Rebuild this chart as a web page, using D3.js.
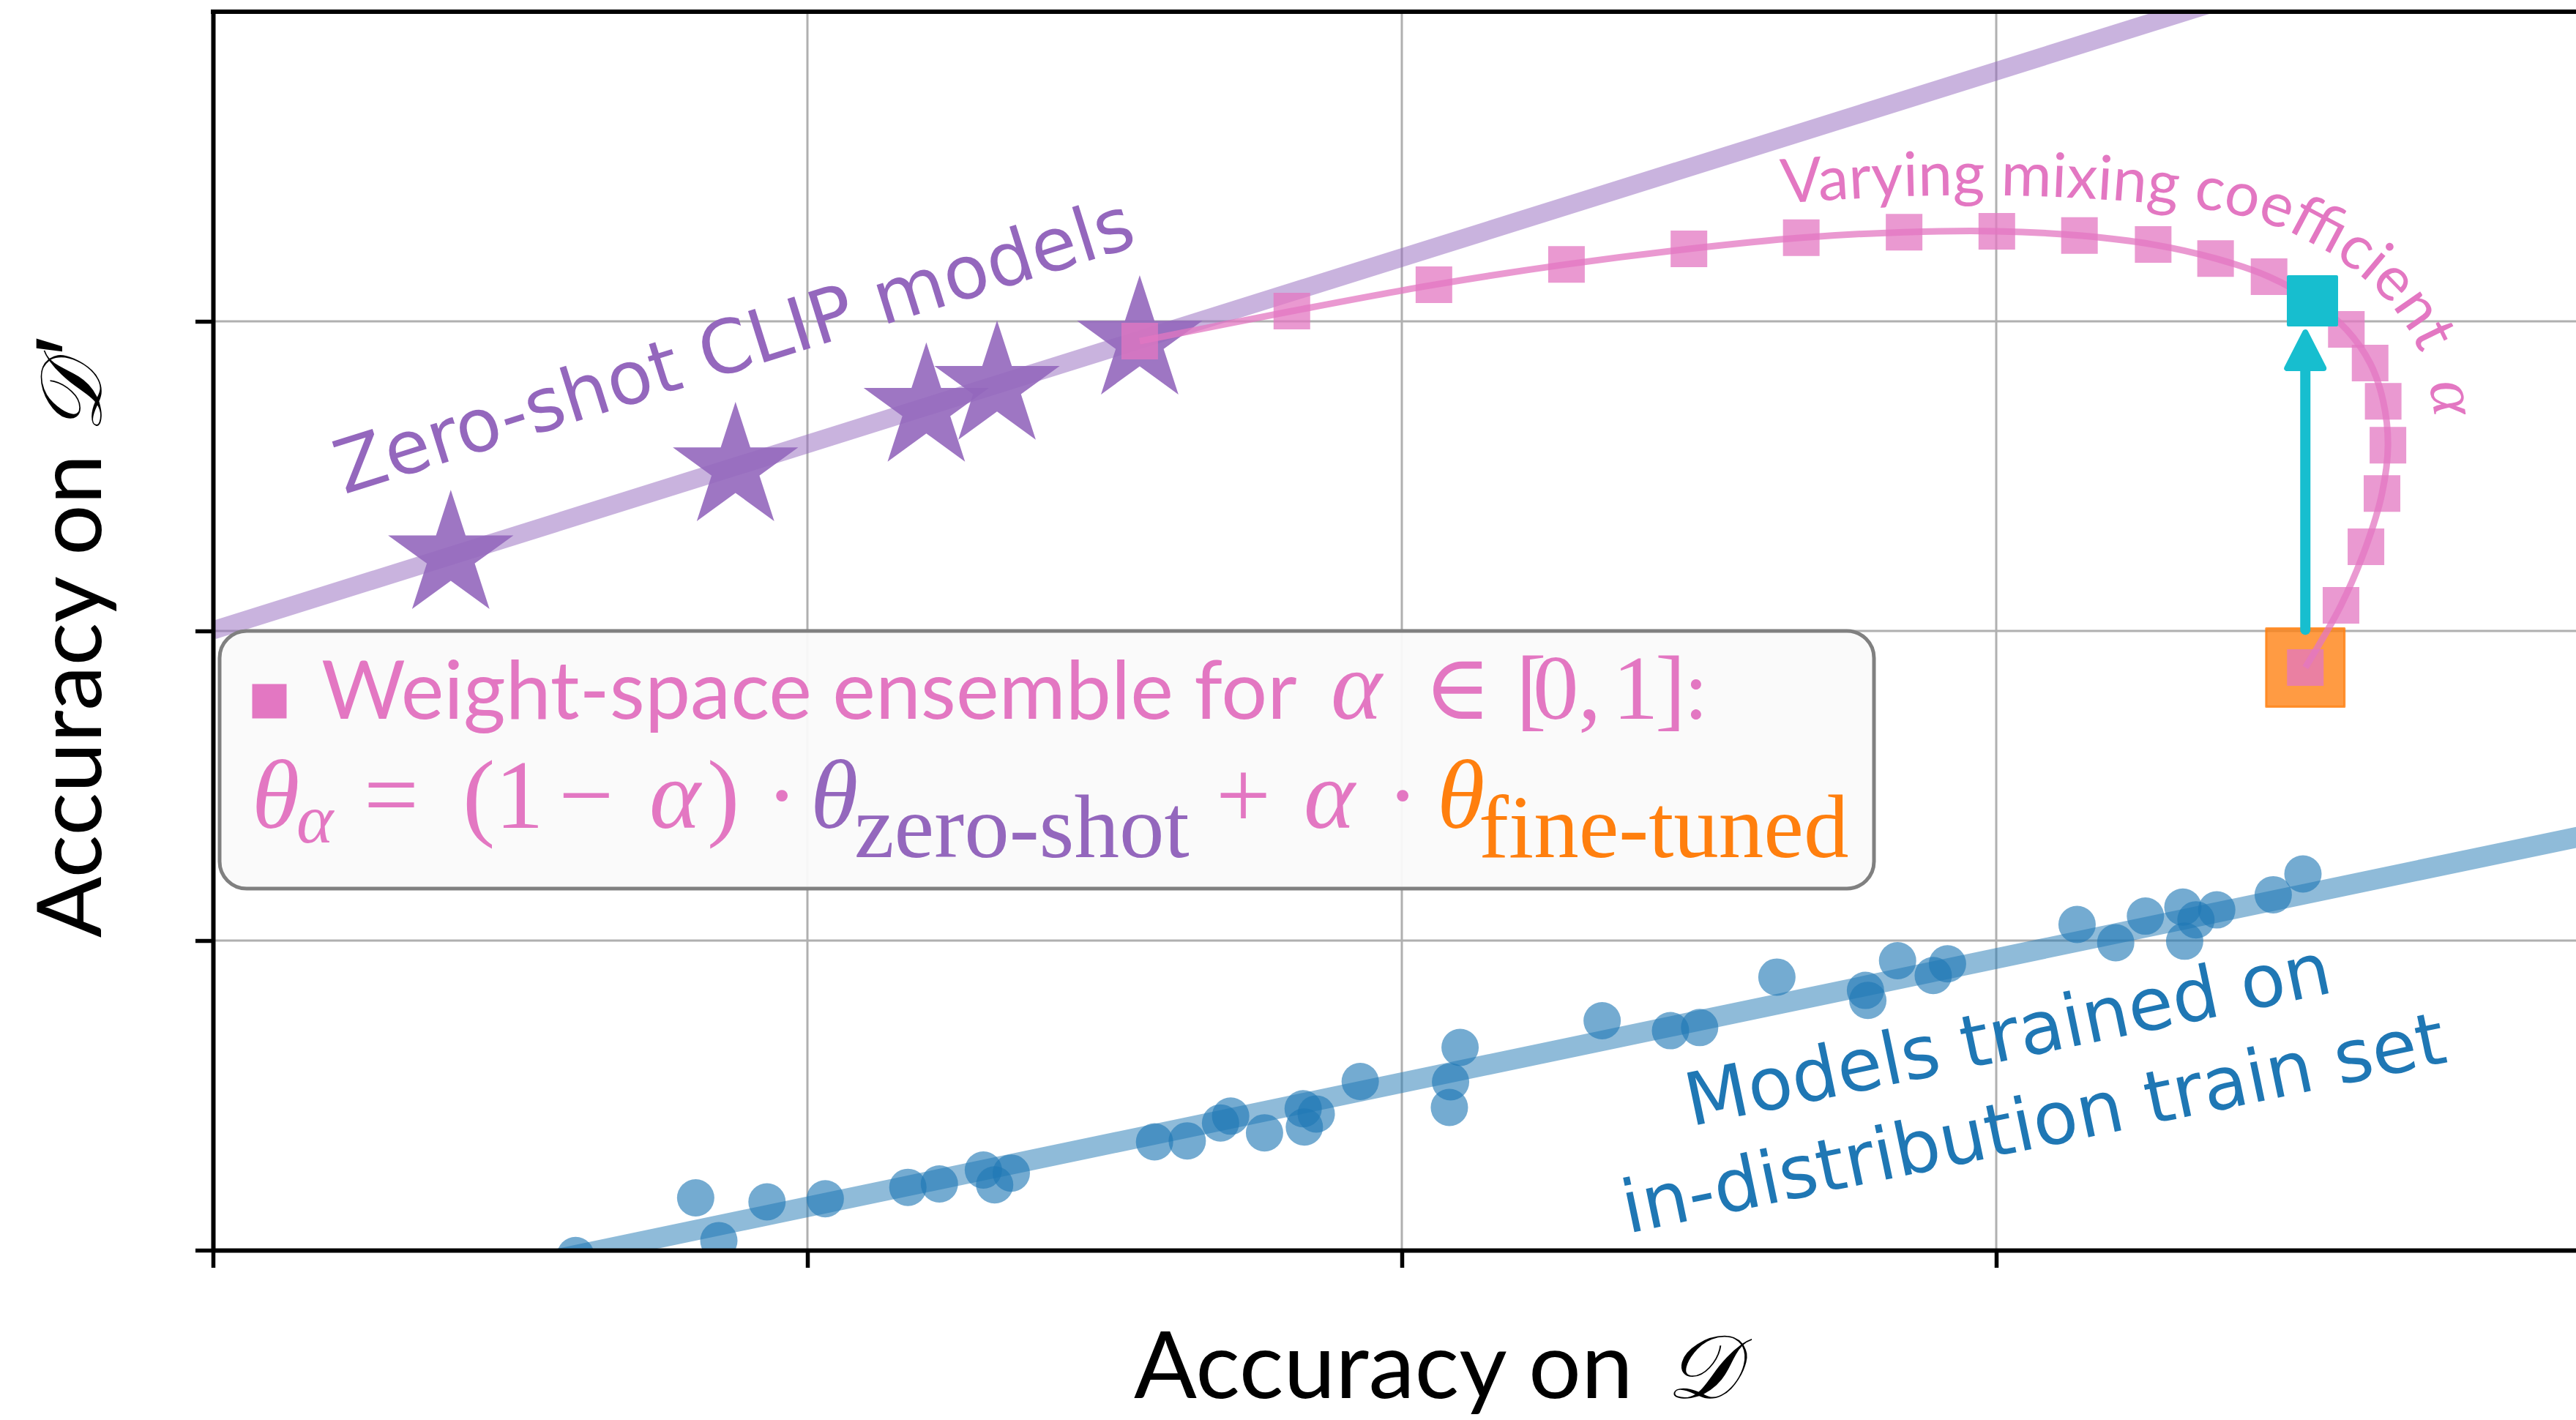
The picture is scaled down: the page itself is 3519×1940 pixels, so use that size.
<!DOCTYPE html>
<html>
<head>
<meta charset="utf-8">
<script src="https://cdn.jsdelivr.net/npm/d3@7"></script>
<style>
  html, body { margin: 0; padding: 0; background: #ffffff; }
  svg { display: block; }
</style>
</head>
<body>
<svg id="chart" width="3519" height="1940"></svg>
<script>
// ---- data (accuracy on D along x, accuracy on D' along y; arbitrary units) ----

// zero-shot CLIP models
const zeroShotX = [0.400, 0.879, 1.200, 1.319, 1.559];
const zeroShotY = [2.243, 2.527, 2.719, 2.790, 2.936];

// weight-space ensembles for alpha = 0, 0.05, ..., 1
const mixAlpha = [0, 0.05, 0.1, 0.15, 0.2, 0.25, 0.3, 0.35, 0.4, 0.45, 0.5,
                  0.55, 0.6, 0.65, 0.7, 0.75, 0.8, 0.85, 0.9, 0.95, 1];
const mixX = [1.559, 1.815, 2.054, 2.277, 2.483, 2.672, 2.845, 3.001, 3.140, 3.264, 3.369,
              3.459, 3.532, 3.589, 3.629, 3.651, 3.659, 3.649, 3.622, 3.580, 3.520];
const mixY = [2.936, 3.033, 3.118, 3.184, 3.234, 3.270, 3.288, 3.291, 3.277, 3.248, 3.203,
              3.144, 3.066, 2.974, 2.865, 2.742, 2.600, 2.444, 2.272, 2.083, 1.882];
const bestAlpha = 0.6;

// models trained on the in-distribution train set
const trainedX = [0.610, 0.812, 0.851, 0.932, 1.030, 1.169, 1.222, 1.296, 1.315, 1.343,
                  1.584, 1.639, 1.695, 1.712, 1.769, 1.834, 1.836, 1.856, 1.930, 2.098,
                  2.082, 2.080, 2.337, 2.452, 2.501, 2.631, 2.780, 2.784, 2.834, 2.894,
                  2.918, 3.136, 3.201, 3.251, 3.314, 3.317, 3.336, 3.371, 3.466, 3.516];
const trainedY = [-0.017, 0.169, 0.031, 0.156, 0.166, 0.203, 0.214, 0.259, 0.211, 0.249,
                  0.350, 0.353, 0.411, 0.433, 0.379, 0.457, 0.398, 0.440, 0.545, 0.655,
                  0.544, 0.461, 0.741, 0.709, 0.719, 0.882, 0.839, 0.807, 0.935, 0.887,
                  0.925, 1.052, 0.993, 1.079, 1.108, 0.998, 1.067, 1.099, 1.148, 1.215];

// linear trends: [slope, intercept]
const zeroShotFit = [0.602, 2.002];
const trainedFit = [0.401, -0.261];

// ticks (unlabelled)
const xTicks = [0, 1, 2, 3];
const yTicks = [0, 1, 2, 3];

// ---- colours & fonts ----
const C_BLUE = "#1f77b4", C_ORANGE = "#ff7f0e", C_PURPLE = "#9467bd",
      C_PINK = "#e377c2", C_CYAN = "#17becf", C_GRID = "#b0b0b0";

const SANS = "Lato, 'DejaVu Sans', sans-serif";
const DJV = "'DejaVu Sans', sans-serif";
const SERIF = "'Liberation Serif', 'DejaVu Serif', serif";
const CAL = "'DejaVu Serif', 'Liberation Serif', serif";

// ---- layout ----
const W = 3519, H = 1940;
const plot = { left: 291, top: 16, right: 3539, bottom: 1708 };

const x = d3.scaleLinear().domain([0, 4]).range([plot.left, plot.right]);
const y = d3.scaleLinear().domain([0, 4]).range([plot.bottom, plot.top]);

const svg = d3.select("#chart");
svg.append("rect").attr("width", W).attr("height", H).attr("fill", "#ffffff");

const defs = svg.append("defs");
defs.append("clipPath").attr("id", "plot-clip")
  .append("rect")
  .attr("x", plot.left).attr("y", plot.top)
  .attr("width", plot.right - plot.left).attr("height", plot.bottom - plot.top);

// grid
const grid = svg.append("g").attr("class", "grid");
grid.selectAll("line.gx").data(xTicks.filter(t => t > 0)).join("line")
  .attr("x1", d => x(d)).attr("x2", d => x(d))
  .attr("y1", plot.top).attr("y2", plot.bottom)
  .attr("stroke", C_GRID).attr("stroke-width", 3);
grid.selectAll("line.gy").data(yTicks.filter(t => t > 0)).join("line")
  .attr("y1", d => y(d)).attr("y2", d => y(d))
  .attr("x1", plot.left).attr("x2", plot.right)
  .attr("stroke", C_GRID).attr("stroke-width", 3);

const data = svg.append("g").attr("clip-path", "url(#plot-clip)");

// trend lines
const fitLine = (fit) => [0, 4].map(v => [x(v), y(fit[0] * v + fit[1])]);
data.append("path")
  .attr("d", d3.line()(fitLine(zeroShotFit)))
  .attr("stroke", C_PURPLE).attr("stroke-opacity", 0.5)
  .attr("stroke-width", 25).attr("fill", "none");
data.append("path")
  .attr("d", d3.line()(fitLine(trainedFit)))
  .attr("stroke", C_BLUE).attr("stroke-opacity", 0.5)
  .attr("stroke-width", 28).attr("fill", "none");

// standard models
data.selectAll("circle.trained").data(d3.range(trainedX.length)).join("circle")
  .attr("cx", i => x(trainedX[i])).attr("cy", i => y(trainedY[i]))
  .attr("r", 25.5)
  .attr("fill", C_BLUE).attr("fill-opacity", 0.62);

// zero-shot stars
const star = d3.symbol().type(d3.symbolStar).size(9100);
data.selectAll("path.star").data(d3.range(zeroShotX.length)).join("path")
  .attr("d", star)
  .attr("transform", i => `translate(${x(zeroShotX[i])},${y(zeroShotY[i])})`)
  .attr("fill", C_PURPLE).attr("fill-opacity", 0.9);

// fine-tuned model (alpha = 1)
const last = mixX.length - 1;
const ftSide = 107;
data.append("path")
  .attr("d", d3.symbol().type(d3.symbolSquare).size(ftSide * ftSide)())
  .attr("transform", `translate(${x(mixX[last])},${y(mixY[last])})`)
  .attr("fill", C_ORANGE).attr("fill-opacity", 0.78)
  .attr("stroke", C_ORANGE).attr("stroke-opacity", 0.78).attr("stroke-width", 3)
  .attr("stroke-linejoin", "round");

// weight-space ensemble squares + curve
const sq = d3.symbol().type(d3.symbolSquare).size(50 * 50);
data.selectAll("path.mix").data(d3.range(mixX.length)).join("path")
  .attr("d", sq)
  .attr("transform", i => `translate(${x(mixX[i])},${y(mixY[i])})`)
  .attr("fill", C_PINK).attr("fill-opacity", 0.75);

data.append("path")
  .attr("d", d3.line().curve(d3.curveCatmullRom.alpha(0.5))
    (d3.range(mixX.length).map(i => [x(mixX[i]), y(mixY[i])])))
  .attr("fill", "none").attr("stroke", C_PINK).attr("stroke-opacity", 0.75)
  .attr("stroke-width", 9).attr("stroke-linejoin", "round");

// arrow from the fine-tuned model up to the best mixture
const bi = mixAlpha.indexOf(bestAlpha);
const cyanSide = 70;
const ax = x(mixX[last]);
const ay0 = y(mixY[last]) - ftSide / 2 + 2;
const ay1 = y(mixY[bi]) + cyanSide / 2 + 4;
const headLen = 56, headW = 58;
data.append("line")
  .attr("x1", ax).attr("x2", ax)
  .attr("y1", ay0).attr("y2", ay1 + headLen - 4)
  .attr("stroke", C_CYAN).attr("stroke-width", 14).attr("stroke-linecap", "round");
data.append("path")
  .attr("d", `M${ax},${ay1 + 4} L${ax - headW / 2 + 4},${ay1 + headLen - 3} L${ax + headW / 2 - 4},${ay1 + headLen - 3} Z`)
  .attr("fill", C_CYAN).attr("stroke", C_CYAN).attr("stroke-width", 8)
  .attr("stroke-linejoin", "round");

data.append("path")
  .attr("d", d3.symbol().type(d3.symbolSquare).size((cyanSide - 4) * (cyanSide - 4))())
  .attr("transform", `translate(${x(mixX[bi])},${y(mixY[bi])})`)
  .attr("fill", C_CYAN).attr("stroke", C_CYAN).attr("stroke-width", 4)
  .attr("stroke-linejoin", "round");

// ---- axes (no tick labels) ----
const axes = svg.append("g");
const xAxis = axes.append("g").attr("transform", `translate(0,${plot.bottom})`)
  .call(d3.axisBottom(x).tickValues(xTicks).tickSize(24).tickSizeOuter(0).tickFormat(""));
const yAxis = axes.append("g").attr("transform", `translate(${plot.left},0)`)
  .call(d3.axisLeft(y).tickValues(yTicks).tickSize(24).tickSizeOuter(0).tickFormat(""));
[xAxis, yAxis].forEach(g => {
  g.select(".domain").attr("stroke", "#000").attr("stroke-width", 6);
  g.selectAll(".tick line").attr("stroke", "#000").attr("stroke-width", 5.5);
});
axes.append("line")
  .attr("x1", plot.left - 3).attr("x2", plot.right)
  .attr("y1", plot.top).attr("y2", plot.top)
  .attr("stroke", "#000").attr("stroke-width", 6);

// axis titles: words, calligraphic D and the prime are set as separate runs
const titles = svg.append("g").attr("fill", "#000");
titles.append("text")
  .attr("x", 1549).attr("y", 1910)
  .attr("font-family", SANS).attr("font-size", 127)
  .text("Accuracy on");
titles.append("text")
  .attr("x", 2276).attr("y", 1910)
  .attr("font-family", CAL).attr("font-style", "italic").attr("font-size", 122)
  .text("𝒟");

titles.append("text")
  .attr("transform", "translate(138,1281) rotate(-90)")
  .attr("font-family", SANS).attr("font-size", 123)
  .text("Accuracy on");
titles.append("text")
  .attr("transform", "translate(138,592) rotate(-90)")
  .attr("font-family", CAL).attr("font-style", "italic").attr("font-size", 118)
  .text("𝒟");
titles.append("text")
  .attr("transform", "translate(146,486) rotate(-90)")
  .attr("font-family", "'Liberation Sans', 'Noto Sans', 'DejaVu Sans', sans-serif")
  .attr("font-size", 140)
  .text("′");

// ---- annotations ----
const angleOf = (fit) => {
  const p0 = [x(0), y(fit[1])], p1 = [x(4), y(fit[0] * 4 + fit[1])];
  return Math.atan2(p1[1] - p0[1], p1[0] - p0[0]) * 180 / Math.PI;
};

svg.append("text")
  .attr("transform", `translate(${x(0.889)},${y(2.844)}) rotate(${angleOf(zeroShotFit)})`)
  .attr("text-anchor", "middle").attr("font-family", DJV).attr("font-size", 101)
  .attr("fill", C_PURPLE).text("Zero-shot CLIP models");

const trainedAngle = angleOf(trainedFit);
svg.append("text")
  .attr("transform", `translate(${x(3.028)},${y(0.617)}) rotate(${trainedAngle})`)
  .attr("text-anchor", "middle").attr("font-family", DJV).attr("font-size", 100)
  .attr("fill", C_BLUE).text("Models trained on");
svg.append("text")
  .attr("transform", `translate(${x(3.071)},${y(0.331)}) rotate(${trainedAngle})`)
  .attr("text-anchor", "middle").attr("font-family", DJV).attr("font-size", 100)
  .attr("fill", C_BLUE).text("in-distribution train set");

// curved label following the ensemble path
const labelPathX = [2.640, 2.844, 3.065, 3.287, 3.435, 3.558, 3.656, 3.712, 3.736, 3.743];
const labelPathY = [3.381, 3.404, 3.404, 3.376, 3.329, 3.222, 3.069, 2.903, 2.714, 2.501];
defs.append("path").attr("id", "mix-label-path")
  .attr("d", d3.line().curve(d3.curveCatmullRom.alpha(0.5))
    (labelPathX.map((v, i) => [x(v), y(labelPathY[i])])));
const mixLabel = svg.append("text")
  .attr("font-family", SANS).attr("font-size", 84).attr("fill", C_PINK);
mixLabel.append("textPath").attr("href", "#mix-label-path")
  .text("Varying mixing coefficient");
const mixLabelLen = mixLabel.node().getComputedTextLength();
svg.append("text")
  .attr("font-family", SERIF).attr("font-style", "italic").attr("font-size", 92).attr("fill", C_PINK)
  .append("textPath").attr("href", "#mix-label-path").attr("startOffset", mixLabelLen + 42)
  .text("α");

// ---- legend box ----
const lg = svg.append("g");
lg.append("rect")
  .attr("x", 300).attr("y", 862).attr("width", 2260).attr("height", 352)
  .attr("rx", 37).attr("ry", 37)
  .attr("fill", "#fafafa").attr("fill-opacity", 0.95)
  .attr("stroke", "#808080").attr("stroke-width", 5);

lg.append("rect")
  .attr("x", 368 - 23.5).attr("y", 958 - 23.5).attr("width", 47).attr("height", 47)
  .attr("fill", C_PINK);

const line1 = [
  { t: "Weight-space ensemble for", x: [439], f: SANS, s: 111, it: false, c: C_PINK },
  { t: "α", x: [1818], f: SERIF, s: 133, it: true, c: C_PINK },
  { t: "∈", x: [1945], f: SERIF, s: 125, it: false, c: C_PINK },
  { t: "[0,1]", x: [2071, 2094, 2156, 2203, 2261], f: SERIF, s: 125, it: false, c: C_PINK },
  { t: ":", x: [2303], f: SANS, s: 111, it: false, c: C_PINK }
];
const line2 = [
  { t: "θ", x: [344], f: SERIF, s: 133, it: true, c: C_PINK, dy: 0 },
  { t: "α", x: [405], f: SERIF, s: 96, it: true, c: C_PINK, dy: 20 },
  { t: "=", x: [497], f: SERIF, s: 133, it: false, c: C_PINK, dy: 0 },
  { t: "(1", x: [632], f: SERIF, s: 133, it: false, c: C_PINK, dy: 0 },
  { t: "−", x: [763], f: SERIF, s: 133, it: false, c: C_PINK, dy: 0 },
  { t: "α", x: [887], f: SERIF, s: 133, it: true, c: C_PINK, dy: 0 },
  { t: ")", x: [966], f: SERIF, s: 133, it: false, c: C_PINK, dy: 0 },
  { t: "·", x: [1046], f: SERIF, s: 133, it: false, c: C_PINK, dy: 0 },
  { t: "θ", x: [1107], f: SERIF, s: 133, it: true, c: C_PURPLE, dy: 0 },
  { t: "zero-shot", x: [1167], f: SERIF, s: 123, it: false, c: C_PURPLE, dy: 40 },
  { t: "+", x: [1661], f: SERIF, s: 133, it: false, c: C_PINK, dy: 0 },
  { t: "α", x: [1781], f: SERIF, s: 133, it: true, c: C_PINK, dy: 0 },
  { t: "·", x: [1894], f: SERIF, s: 133, it: false, c: C_PINK, dy: 0 },
  { t: "θ", x: [1963], f: SERIF, s: 133, it: true, c: C_ORANGE, dy: 0 },
  { t: "fine-tuned", x: [2020], f: SERIF, s: 123, it: false, c: C_ORANGE, dy: 40 }
];
function drawTokens(tokens, baseline) {
  lg.selectAll(null).data(tokens).join("text")
    .attr("x", d => d.x.join(" ")).attr("y", d => baseline + (d.dy || 0))
    .attr("font-family", d => d.f).attr("font-size", d => d.s)
    .attr("font-style", d => d.it ? "italic" : "normal")
    .attr("fill", d => d.c).text(d => d.t);
}
drawTokens(line1, 982);
drawTokens(line2, 1131);
</script>
</body>
</html>
